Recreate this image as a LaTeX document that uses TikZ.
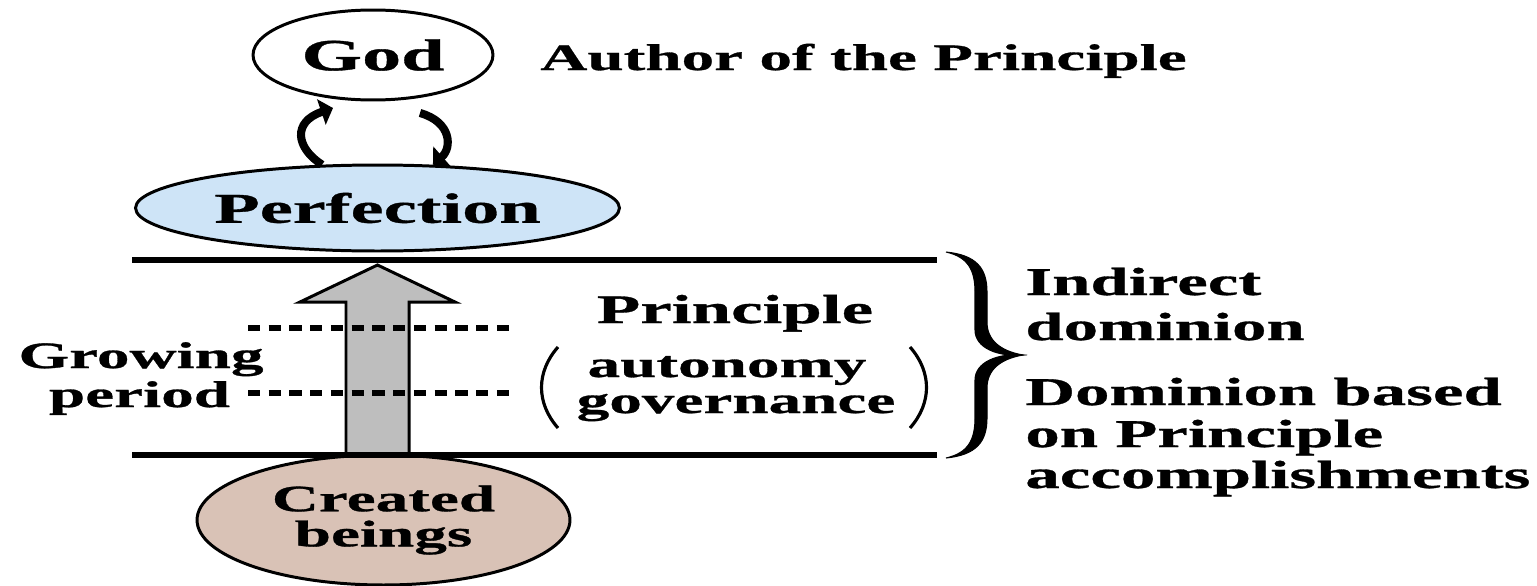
\documentclass[tikz,border=0pt]{standalone}
\usepackage{fontspec}
\setmainfont[FakeStretch=1.75, BoldFeatures={FakeBold=0.8}]{Liberation Serif}
\usetikzlibrary{shapes.geometric,arrows.meta}
\newcommand\setfs[2]{\fontsize{#1}{#2}\selectfont}
\definecolor{perfblue}{RGB}{206,228,247}
\definecolor{creabrown}{RGB}{217,194,182}
\definecolor{arrgray}{RGB}{190,190,190}
\begin{document}
\begin{tikzpicture}[x=0.02cm,y=-0.02cm,
  ell/.style={ellipse, draw, line width=1.7pt, inner sep=0pt, align=center},
  lbl/.style={inner sep=0pt},
  txtA/.style={font=\bfseries\setfs{22.4}{22.4}},
  txtB/.style={font=\bfseries\setfs{21.2}{21.2}},
  rulel/.style={line width=3.4pt},
  dots/.style={line width=3.2pt, dash pattern=on 7pt off 4.8pt},
  cyc/.style={line width=4.6pt, -{Triangle[length=7pt,width=15pt]}},
  paren/.style={line width=1.8pt},
  bracefill/.style={fill=black, draw=black, line width=0.6pt}]
\useasboundingbox (0,0) rectangle (1537,585);

% ellipses
\node[ell, minimum width=4.8cm, minimum height=1.8cm, font=\bfseries\setfs{25.4}{25.4}] (god) at (373,55) {God};
\node[ell, fill=perfblue, minimum width=9.68cm, minimum height=1.72cm, font=\bfseries\setfs{24.2}{24.2}] (perf) at (377.5,208) {Perfection};
\node[ell, fill=creabrown, minimum width=7.46cm, minimum height=2.6cm, font=\bfseries\setfs{21.2}{20}] (crea) at (383.5,520) {Created\\beings};

% cycle arrows
\draw[cyc] (perf.142) .. controls (296,148) and (292,122) .. ([shift={(-40,53)}]god.center);
\draw[cyc] ([shift={(47,58)}]god.center) .. controls (452,122) and (452,148) .. (perf.38);

% block arrow
\draw[fill=arrgray, line width=1.7pt, line join=miter] (346,455) -- (346,302) -- (300,302) -- (377.5,265) -- (455,302) -- (409,302) -- (409,455);

% horizontal lines
\draw[rulel] (132,260) -- (937,260);
\draw[rulel] (132,455) -- (937,455);

% dotted lines
\draw[dots] (248,328) -- (509,328);
\draw[dots] (248,393) -- (509,393);

% parentheses
\draw[paren] (558,347) .. controls (536,372) and (536,403) .. (558,428);
\draw[paren] (910,347) .. controls (932,372) and (932,403) .. (910,428);

% brace
\draw[bracefill] (946,252) .. controls (976,255) and (987,268) .. (987,292) -- (987,322)
  .. controls (987,340) and (1000,351) .. (1023,355)
  .. controls (998,357) and (975,348) .. (975,330) -- (975,292)
  .. controls (975,270) and (968,257) .. (946,252) -- cycle;
\draw[bracefill] (946,458) .. controls (976,455) and (987,442) .. (987,418) -- (987,388)
  .. controls (987,370) and (1000,359) .. (1023,355)
  .. controls (998,353) and (975,362) .. (975,380) -- (975,418)
  .. controls (975,440) and (968,453) .. (946,458) -- cycle;

% labels
\node[lbl, txtB, anchor=base west] (author) at (540,70) {Author of the Principle};
\node[lbl, font=\bfseries\setfs{23.1}{23.1}, anchor=base] (princ) at (735,323) {Principle};
\node[lbl, txtB, anchor=base] (auto) at (727,377) {autonomy};
\node[lbl, txtB, anchor=base] (gov) at (736,413) {governance};
\node[lbl, txtB, anchor=base] (grow) at (141,368) {Growing};
\node[lbl, txtB, anchor=base] (period) at (139.5,407) {period};
\node[lbl, txtA, anchor=base west] (ind1) at (1025,295) {Indirect};
\node[lbl, txtA, anchor=base west] (ind2) at (1025,340) {dominion};
\node[lbl, txtA, anchor=base west] (dom1) at (1025,405) {Dominion based};
\node[lbl, txtA, anchor=base west] (dom2) at (1025,447) {on Principle};
\node[lbl, txtA, anchor=base west] (dom3) at (1025,488) {accomplishments};
\end{tikzpicture}
\end{document}
